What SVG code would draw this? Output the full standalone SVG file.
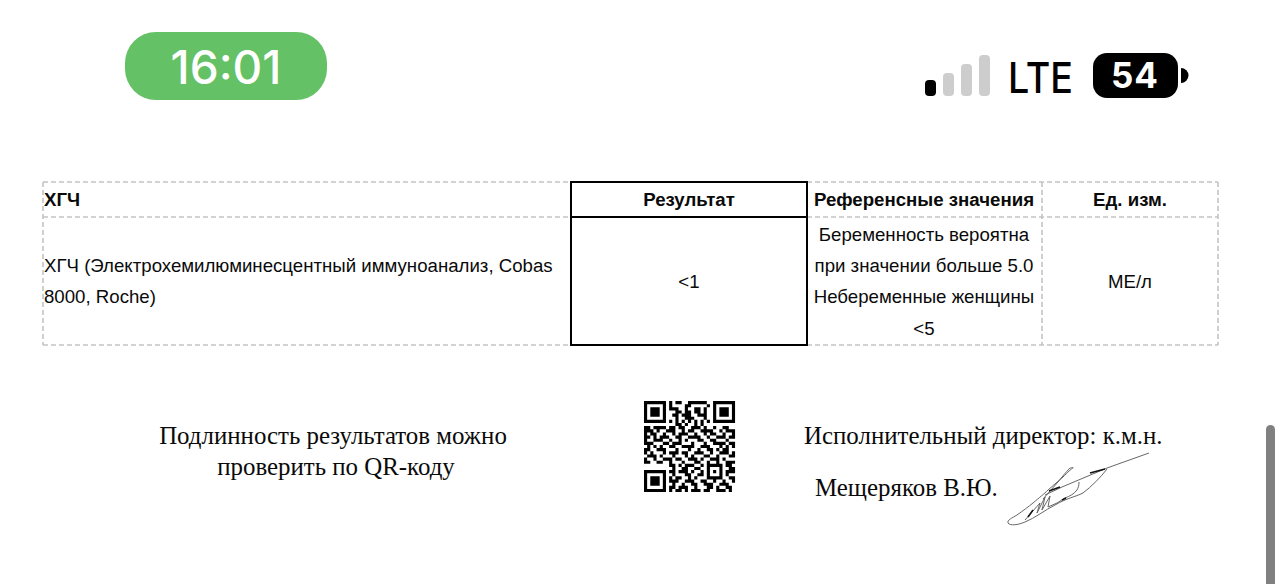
<svg xmlns="http://www.w3.org/2000/svg" width="1284" height="584" viewBox="0 0 1284 584">
<style>
.t{font-family:"Liberation Sans",Arial,sans-serif;font-size:18.65px;fill:#0a0a0a}
.b{font-weight:700}
.m{text-anchor:middle}
.s{font-family:"Liberation Serif","Times New Roman",serif;font-size:24.9px;fill:#0a0a0a}
.d{stroke:#c4c4c4;stroke-width:1.6;stroke-dasharray:5 3;fill:none}
.k{stroke:#000;stroke-width:2;fill:none}
.g{fill:#cdcdcd}
.sig{fill:none;stroke:#666;stroke-width:1}
.sd{fill:none;stroke:#111;stroke-width:1.5}
</style>
<rect width="1284" height="584" fill="#fff"/>
<g id="status-time">
<rect x="125" y="32" width="202" height="68" rx="31" fill="#64c166"/>
<text x="226" y="84" text-anchor="middle" font-family="Inter,'Liberation Sans',sans-serif" font-size="46" font-weight="450" fill="#fff">16:01</text>
</g>
<g id="status-signal">
<rect x="925" y="80" width="11" height="16" rx="4" fill="#000"/>
<rect class="g" x="943" y="73" width="11" height="23" rx="4"/>
<rect class="g" x="961" y="64" width="11" height="32" rx="4"/>
<rect class="g" x="979" y="55" width="11" height="41" rx="4"/>
<text x="1008" y="93" font-family="Inter,'Liberation Sans',sans-serif" font-size="43" font-weight="500" fill="#000" textLength="65" lengthAdjust="spacingAndGlyphs">LTE</text>
</g>
<g id="status-battery">
<rect x="1093" y="53" width="85" height="45" rx="14" fill="#000"/>
<path d="M1181 68a7.500 7.500 0 0 1 0 15z" fill="#000"/>
<text x="1135" y="88" text-anchor="middle" font-family="Inter,'Liberation Sans',sans-serif" font-size="35" font-weight="700" letter-spacing="1" fill="#fff">54</text>
</g>
<g id="table-grid">
<path class="d" d="M43 182H570M807 182H1218M43 217H570M807 217H1218M43 345H570M807 345H1218M43 182V345M1042 182V345M1218 182V345"/>
<path class="k" d="M571 182H807V345H571ZM571 217H807"/>
</g>
<g id="table-text">
<text class="t b" x="44" y="206">ХГЧ</text>
<text class="t b m" x="689" y="206">Результат</text>
<text class="t b m" x="924" y="206">Референсные значения</text>
<text class="t b m" x="1130" y="206">Ед. изм.</text>
<text class="t" x="44" y="272">ХГЧ (Электрохемилюминесцентный иммуноанализ, Cobas</text>
<text class="t" x="44" y="303">8000, Roche)</text>
<text class="t m" x="689" y="288">&lt;1</text>
<text class="t m" x="924" y="241">Беременность вероятна</text>
<text class="t m" x="924" y="272">при значении больше 5.0</text>
<text class="t m" x="924" y="303">Небеременные женщины</text>
<text class="t m" x="924" y="335">&lt;5</text>
<text class="t m" x="1130" y="288">МЕ/л</text>
</g>
<g id="footer-text">
<text class="s m" x="333" y="444">Подлинность результатов можно</text>
<text class="s m" x="336" y="475">проверить по QR-коду</text>
<text class="s" x="804" y="444">Исполнительный директор: к.м.н.</text>
<text class="s" x="815" y="496">Мещеряков В.Ю.</text>
</g>
<g id="qr-code" transform="translate(644 401) scale(3.14)">
<path fill="#000" d="M0 0h7v1h-7zM8 0h1v1h-1zM10 0h2v1h-2zM14 0h6v1h-6zM22 0h7v1h-7z
M0 1h1v1h-1zM6 1h1v1h-1zM8 1h1v1h-1zM13 1h2v1h-2zM20 1h1v1h-1zM22 1h1v1h-1zM28 1h1v1h-1z
M0 2h1v1h-1zM2 2h3v1h-3zM6 2h1v1h-1zM8 2h3v1h-3zM13 2h1v1h-1zM16 2h2v1h-2zM19 2h1v1h-1zM22 2h1v1h-1zM24 2h3v1h-3zM28 2h1v1h-1z
M0 3h1v1h-1zM2 3h3v1h-3zM6 3h1v1h-1zM10 3h2v1h-2zM13 3h2v1h-2zM16 3h2v1h-2zM19 3h1v1h-1zM22 3h1v1h-1zM24 3h3v1h-3zM28 3h1v1h-1z
M0 4h1v1h-1zM2 4h3v1h-3zM6 4h1v1h-1zM9 4h2v1h-2zM12 4h3v1h-3zM17 4h3v1h-3zM22 4h1v1h-1zM24 4h3v1h-3zM28 4h1v1h-1z
M0 5h1v1h-1zM6 5h1v1h-1zM10 5h1v1h-1zM13 5h3v1h-3zM19 5h1v1h-1zM22 5h1v1h-1zM28 5h1v1h-1z
M0 6h7v1h-7zM8 6h1v1h-1zM10 6h1v1h-1zM12 6h1v1h-1zM14 6h1v1h-1zM16 6h1v1h-1zM18 6h1v1h-1zM20 6h1v1h-1zM22 6h7v1h-7z
M10 7h2v1h-2zM13 7h1v1h-1zM16 7h1v1h-1zM18 7h1v1h-1z
M0 8h2v1h-2zM3 8h3v1h-3zM6 8h1v1h-1zM8 8h2v1h-2zM11 8h2v1h-2zM15 8h3v1h-3zM19 8h1v1h-1zM22 8h1v1h-1zM25 8h2v1h-2z
M0 9h3v1h-3zM4 9h1v1h-1zM7 9h3v1h-3zM12 9h1v1h-1zM14 9h2v1h-2zM18 9h4v1h-4zM24 9h1v1h-1zM26 9h3v1h-3z
M0 10h1v1h-1zM2 10h2v1h-2zM6 10h1v1h-1zM9 10h1v1h-1zM11 10h3v1h-3zM16 10h1v1h-1zM19 10h1v1h-1zM21 10h2v1h-2zM25 10h1v1h-1zM28 10h1v1h-1z
M0 11h2v1h-2zM3 11h1v1h-1zM5 11h3v1h-3zM10 11h2v1h-2zM14 11h4v1h-4zM20 11h1v1h-1zM23 11h3v1h-3zM27 11h2v1h-2z
M0 12h1v1h-1zM3 12h3v1h-3zM8 12h1v1h-1zM11 12h1v1h-1zM13 12h1v1h-1zM17 12h2v1h-2zM21 12h2v1h-2zM26 12h1v1h-1z
M0 13h3v1h-3zM6 13h2v1h-2zM9 13h3v1h-3zM15 13h1v1h-1zM19 13h1v1h-1zM22 13h4v1h-4zM27 13h2v1h-2z
M1 14h1v1h-1zM3 14h1v1h-1zM5 14h1v1h-1zM8 14h2v1h-2zM12 14h4v1h-4zM18 14h3v1h-3zM24 14h1v1h-1zM26 14h1v1h-1zM28 14h1v1h-1z
M0 15h2v1h-2zM4 15h3v1h-3zM10 15h1v1h-1zM14 15h1v1h-1zM17 15h1v1h-1zM20 15h2v1h-2zM23 15h1v1h-1zM25 15h2v1h-2z
M0 16h1v1h-1zM2 16h1v1h-1zM6 16h1v1h-1zM8 16h3v1h-3zM12 16h2v1h-2zM16 16h3v1h-3zM21 16h1v1h-1zM24 16h3v1h-3zM28 16h1v1h-1z
M1 17h3v1h-3zM5 17h1v1h-1zM9 17h1v1h-1zM13 17h1v1h-1zM15 17h1v1h-1zM19 17h2v1h-2zM23 17h1v1h-1zM27 17h2v1h-2z
M0 18h1v1h-1zM3 18h1v1h-1zM6 18h3v1h-3zM10 18h2v1h-2zM14 18h3v1h-3zM18 18h1v1h-1zM21 18h3v1h-3zM25 18h1v1h-1z
M0 19h2v1h-2zM4 19h2v1h-2zM8 19h1v1h-1zM12 19h1v1h-1zM16 19h2v1h-2zM20 19h1v1h-1zM23 19h1v1h-1zM26 19h3v1h-3z
M8 20h2v1h-2zM11 20h1v1h-1zM13 20h3v1h-3zM18 20h1v1h-1zM20 20h5v1h-5zM26 20h2v1h-2z
M9 21h1v1h-1zM12 21h2v1h-2zM16 21h2v1h-2zM20 21h1v1h-1zM24 21h1v1h-1zM27 21h2v1h-2z
M0 22h7v1h-7zM8 22h2v1h-2zM11 22h3v1h-3zM15 22h1v1h-1zM18 22h1v1h-1zM20 22h1v1h-1zM22 22h1v1h-1zM24 22h1v1h-1zM26 22h3v1h-3z
M0 23h1v1h-1zM6 23h1v1h-1zM9 23h1v1h-1zM13 23h2v1h-2zM17 23h2v1h-2zM20 23h1v1h-1zM24 23h1v1h-1zM26 23h1v1h-1z
M0 24h1v1h-1zM2 24h3v1h-3zM6 24h1v1h-1zM8 24h1v1h-1zM10 24h2v1h-2zM14 24h1v1h-1zM16 24h1v1h-1zM20 24h5v1h-5zM27 24h2v1h-2z
M0 25h1v1h-1zM2 25h3v1h-3zM6 25h1v1h-1zM8 25h3v1h-3zM13 25h3v1h-3zM18 25h2v1h-2zM22 25h1v1h-1zM25 25h1v1h-1zM28 25h1v1h-1z
M0 26h1v1h-1zM2 26h3v1h-3zM6 26h1v1h-1zM9 26h1v1h-1zM12 26h1v1h-1zM15 26h2v1h-2zM19 26h3v1h-3zM24 26h3v1h-3z
M0 27h1v1h-1zM6 27h1v1h-1zM8 27h2v1h-2zM11 27h3v1h-3zM16 27h1v1h-1zM20 27h2v1h-2zM23 27h1v1h-1zM26 27h2v1h-2z
M0 28h7v1h-7zM8 28h1v1h-1zM10 28h2v1h-2zM13 28h1v1h-1zM15 28h3v1h-3zM19 28h2v1h-2zM23 28h3v1h-3zM27 28h1v1h-1z"/>
</g>
<g id="signature">
<path class="sig" d="M1149 453L1107 468L1062 487L1045 495"/>
<path class="sig" d="M1107 469C1100 478 1092 486 1083 493C1075 497 1067 498 1055 505C1045 510 1035 518 1025 522C1018 525 1010 526 1008 523C1007 520 1012 518 1017 515C1024 510 1028 507 1033 503C1040 497 1044 494 1048 490L1063 477C1068 472 1071 469 1073 468C1074 467 1071 468 1070 468C1066 472 1062 477 1058 482L1043 499"/>
<path class="sig" d="M1079 482C1079 486 1078 488 1077 490C1074 494 1070 496 1065 498"/>
<path class="sig" d="M1025 520L1032 512L1040 503L1037 513L1045 497L1042 510L1050 496L1048 507L1057 503L1065 498"/>
<path class="sd" d="M1090 473L1105 469M1049 491L1060 487M1028 517L1033 510M1062 500L1066 498"/>
</g>
<rect id="scrollbar" x="1266" y="425" width="9" height="175" rx="4.500" fill="#808080"/>
</svg>
